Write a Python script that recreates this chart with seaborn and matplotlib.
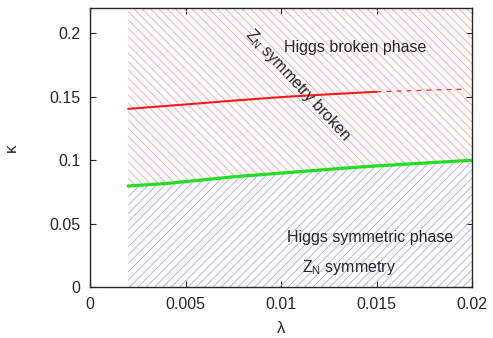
import pandas as pd
import seaborn as sns
import matplotlib.pyplot as plt

# phase boundaries
lam_green = [0.002, 0.004, 0.0075, 0.01, 0.013, 0.015, 0.02]
kappa_green = [0.0797, 0.0816, 0.0869, 0.0898, 0.0934, 0.0955, 0.100]

lam_red = [0.002, 0.005, 0.0075, 0.01, 0.0125, 0.015]
kappa_red = [0.1405, 0.1440, 0.1470, 0.1498, 0.1520, 0.1540]

lam_red_dash = [0.015, 0.0195]
kappa_red_dash = [0.1540, 0.1561]

kappa_top = 0.22

sns.set_style("ticks")
plt.rcParams['font.family'] = ['Liberation Sans', 'DejaVu Sans']
plt.rcParams['hatch.linewidth'] = 0.6

fig = plt.figure(figsize=(4.93, 3.38), dpi=100)
ax = fig.add_axes([0.1826, 0.151, 0.7748, 0.825])

# hatched regions
ax.fill_between(lam_green, kappa_green, kappa_top, facecolor="none",
                edgecolor="#f4a4a4", linewidth=0, hatch="\\\\\\\\")
ax.fill_between(lam_green, 0, kappa_green, facecolor="none",
                edgecolor="#a8a8f4", linewidth=0, hatch="////")

df_g = pd.DataFrame({"lam": lam_green, "kappa": kappa_green})
df_r = pd.DataFrame({"lam": lam_red, "kappa": kappa_red})
df_rd = pd.DataFrame({"lam": lam_red_dash, "kappa": kappa_red_dash})

sns.lineplot(x="lam", y="kappa", data=df_g, color="#22dd22", linewidth=2.3, ax=ax)
sns.lineplot(x="lam", y="kappa", data=df_r, color="#ff1a1a", linewidth=1.5, ax=ax)
sns.lineplot(x="lam", y="kappa", data=df_rd, color="#ff3030", linewidth=0.9,
             linestyle=(0, (4, 4)), ax=ax)

fs = 11.5
ax.text(0.01387, 0.189, "Higgs broken phase", fontsize=fs, ha="center", va="center")
ax.text(0.0109, 0.159, "Z$_\\mathregular{N}$ symmetry broken", fontsize=fs,
        ha="center", va="center", rotation=-47)
ax.text(0.01466, 0.0394, "Higgs symmetric phase", fontsize=fs, ha="center", va="center")
ax.text(0.01356, 0.0157, "Z$_\\mathregular{N}$ symmetry", fontsize=fs,
        ha="center", va="center")

ax.set_xlim(0, 0.02)
ax.set_ylim(0, kappa_top)
ax.set_xticks([0, 0.005, 0.01, 0.015, 0.02])
ax.set_xticklabels(["0", "0.005", "0.01", "0.015", "0.02"])
ax.set_yticks([0, 0.05, 0.1, 0.15, 0.2])
ax.set_yticklabels(["0", "0.05", "0.1", "0.15", "0.2"])
ax.tick_params(direction="in", top=True, right=True, length=4, labelsize=11.5,
               width=0.8, pad=7)
for s in ax.spines.values():
    s.set_linewidth(1.0)
ax.set_xlabel("λ", fontsize=12, labelpad=7)
ax.set_ylabel("κ", fontsize=12, rotation=90, labelpad=22)

plt.savefig("out.png", dpi=100)
